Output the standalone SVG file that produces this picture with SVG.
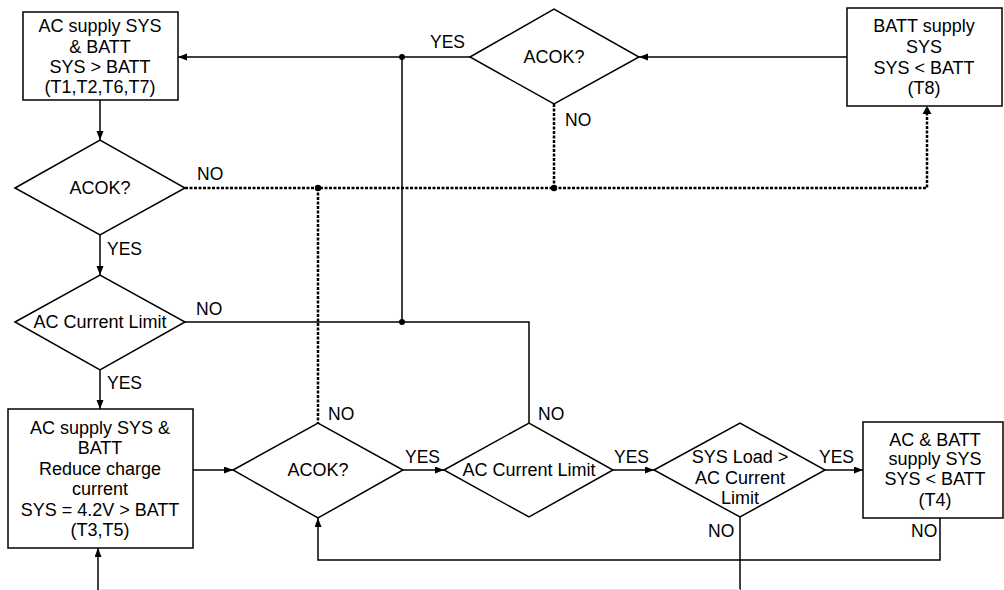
<svg xmlns="http://www.w3.org/2000/svg" width="1004" height="590" viewBox="0 0 1004 590">
<defs>
<marker id="arr" markerUnits="userSpaceOnUse" markerWidth="10" markerHeight="8" refX="9" refY="3.5" orient="auto">
<path d="M0,0 L9,3.5 L0,7 z" fill="#000"/>
</marker>
<style>
.shape{fill:#fff;stroke:#000;stroke-width:1.5}
.box{font-family:"Liberation Sans",Arial,sans-serif;font-size:18px;text-anchor:middle;fill:#000}
.dt{font-family:"Liberation Sans",Arial,sans-serif;font-size:18px;text-anchor:middle;fill:#000}
.lbl{font-family:"Liberation Sans",Arial,sans-serif;font-size:17.5px;fill:#000}
.ln{fill:none;stroke:#000;stroke-width:1.5}
.dot{fill:none;stroke:#000;stroke-width:2.5;stroke-dasharray:3 1.5}
</style>
</defs>
<rect width="1004" height="590" fill="#fff"/>
<g id="connectors">
<path class="ln" d="M100,100 V140" marker-end="url(#arr)"/>
<path class="ln" d="M100,235 V275" marker-end="url(#arr)"/>
<path class="ln" d="M100,370 V409" marker-end="url(#arr)"/>
<path class="ln" d="M193,470 H233" marker-end="url(#arr)"/>
<path class="ln" d="M403,470 H444" marker-end="url(#arr)"/>
<path class="ln" d="M613,470 H654" marker-end="url(#arr)"/>
<path class="ln" d="M825,470 H863" marker-end="url(#arr)"/>
<path class="ln" d="M470,57 H178" marker-end="url(#arr)"/>
<path class="ln" d="M847,57 H639" marker-end="url(#arr)"/>
<path class="ln" d="M402,57 V322"/>
<path class="ln" d="M185,322 H529 V423"/>
<path class="ln" d="M940,518 V560 H318 V518" marker-end="url(#arr)"/>
<path class="ln" d="M740,517 V590"/>
<path d="M98,589.5 H740" fill="none" stroke="#e4e4e4" stroke-width="1"/>
<path class="ln" d="M98,590 V548" marker-end="url(#arr)"/>
<path class="dot" d="M185,188 H927 V108"/>
<path d="M922.5,114 L927,106 L931.5,114 z" fill="#000"/>
<path class="dot" d="M554,104 V188"/>
<path class="dot" d="M318,188 V423"/>
<circle cx="402" cy="57" r="3"/>
<circle cx="402" cy="322" r="3"/>
<circle cx="318" cy="188" r="3.2"/>
<circle cx="554" cy="188" r="3.2"/>
</g>
<g id="labels">
<text class="lbl" x="430" y="48">YES</text>
<text class="lbl" x="565" y="126">NO</text>
<text class="lbl" x="197" y="180">NO</text>
<text class="lbl" x="107" y="255">YES</text>
<text class="lbl" x="196" y="315">NO</text>
<text class="lbl" x="107" y="389">YES</text>
<text class="lbl" x="328" y="420">NO</text>
<text class="lbl" x="405" y="463">YES</text>
<text class="lbl" x="538" y="420">NO</text>
<text class="lbl" x="614" y="463">YES</text>
<text class="lbl" x="819" y="463">YES</text>
<text class="lbl" x="708" y="537">NO</text>
<text class="lbl" x="911" y="537">NO</text>
</g>
<g id="box-ac-supply">
<rect class="shape" x="23" y="12" width="155" height="88"/>
<text class="box" x="100" y="32">AC supply SYS</text>
<text class="box" x="100" y="53">&amp; BATT</text>
<text class="box" x="100" y="73">SYS &gt; BATT</text>
<text class="box" x="100" y="93">(T1,T2,T6,T7)</text>
</g>
<g id="dec-acok-top">
<polygon class="shape" points="470,57 554,9 639,57 554,104"/>
<text class="dt" x="554" y="63">ACOK?</text>
</g>
<g id="box-batt-supply">
<rect class="shape" x="847" y="8" width="155" height="98"/>
<text class="box" x="924" y="32">BATT supply</text>
<text class="box" x="924" y="53">SYS</text>
<text class="box" x="924" y="74">SYS &lt; BATT</text>
<text class="box" x="924" y="94">(T8)</text>
</g>
<g id="dec-acok-left">
<polygon class="shape" points="15,188 100,140 185,188 100,235"/>
<text class="dt" x="100" y="194">ACOK?</text>
</g>
<g id="dec-aclimit-left">
<polygon class="shape" points="15,322 100,275 185,322 100,370"/>
<text class="dt" x="100" y="328">AC Current Limit</text>
</g>
<g id="box-reduce">
<rect class="shape" x="8" y="409" width="185" height="139"/>
<text class="box" x="100" y="434">AC supply SYS &amp;</text>
<text class="box" x="100" y="454">BATT</text>
<text class="box" x="100" y="475">Reduce charge</text>
<text class="box" x="100" y="495">current</text>
<text class="box" x="100" y="516">SYS = 4.2V &gt; BATT</text>
<text class="box" x="100" y="536">(T3,T5)</text>
</g>
<g id="dec-acok-bottom">
<polygon class="shape" points="233,470 318,423 403,470 318,518"/>
<text class="dt" x="318" y="476">ACOK?</text>
</g>
<g id="dec-aclimit-bottom">
<polygon class="shape" points="444,470 529,423 613,470 529,517"/>
<text class="dt" x="529" y="476">AC Current Limit</text>
</g>
<g id="dec-sysload">
<polygon class="shape" points="654,470 740,423 825,470 740,517"/>
<text class="dt" x="740" y="463">SYS Load &gt;</text>
<text class="dt" x="740" y="484">AC Current</text>
<text class="dt" x="740" y="504">Limit</text>
</g>
<g id="box-ac-batt">
<rect class="shape" x="863" y="422" width="140" height="96"/>
<text class="box" x="935" y="446">AC &amp; BATT</text>
<text class="box" x="935" y="465">supply SYS</text>
<text class="box" x="935" y="485">SYS &lt; BATT</text>
<text class="box" x="935" y="506">(T4)</text>
</g>
</svg>
